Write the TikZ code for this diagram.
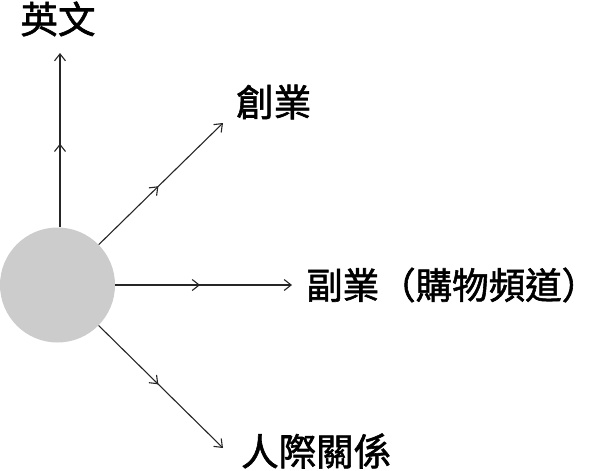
\documentclass[tikz,border=0pt]{standalone}
\usepackage{fontspec}
\newfontfamily\cjk[FakeBold=1.6]{Noto Sans CJK TC}
\usetikzlibrary{arrows.meta,decorations.markings}
\tikzset{
  conn/.style={line width=1.1pt,draw=black!85,
    postaction={decorate},
    decoration={markings,mark=at position 0.48 with {\arrow{Straight Barb[length=7pt,width=11pt,line width=1.1pt]}}},
    -{Straight Barb[length=7pt,width=11pt,line width=1.1pt]}},
  lbl/.style={inner sep=0pt,font=\cjk\fontsize{37.5}{40}\selectfont,text=black},
  lblw/.style={inner sep=0pt,font=\cjk\fontsize{36.5}{40}\selectfont,text=black}
}
\begin{document}
\begin{tikzpicture}[x=1pt,y=-1pt]
\useasboundingbox (0,0) rectangle (600,471);
\node[circle,fill=black!20,minimum size=115pt,inner sep=0pt] (c) at (57.5,285) {};
\coordinate (t1) at (60,53);
\coordinate (t2) at (223,123);
\coordinate (t3) at (292,285);
\coordinate (t4) at (223,448);
\node[lbl] (l1) at (58,19) {英文};
\node[lbl,anchor=west] (l2) at (236,102) {創業};
\node[lblw,anchor=west] (l3) at (306,285) {副業（購物頻道）};
\node[lbl,anchor=west] (l4) at (241,451) {人際關係};
\draw[conn] (t1 |- c.north) -- (t1);
\draw[conn] (c) -- (t2);
\draw[conn] (c) -- (t3);
\draw[conn] (c) -- (t4);
\end{tikzpicture}
\end{document}
